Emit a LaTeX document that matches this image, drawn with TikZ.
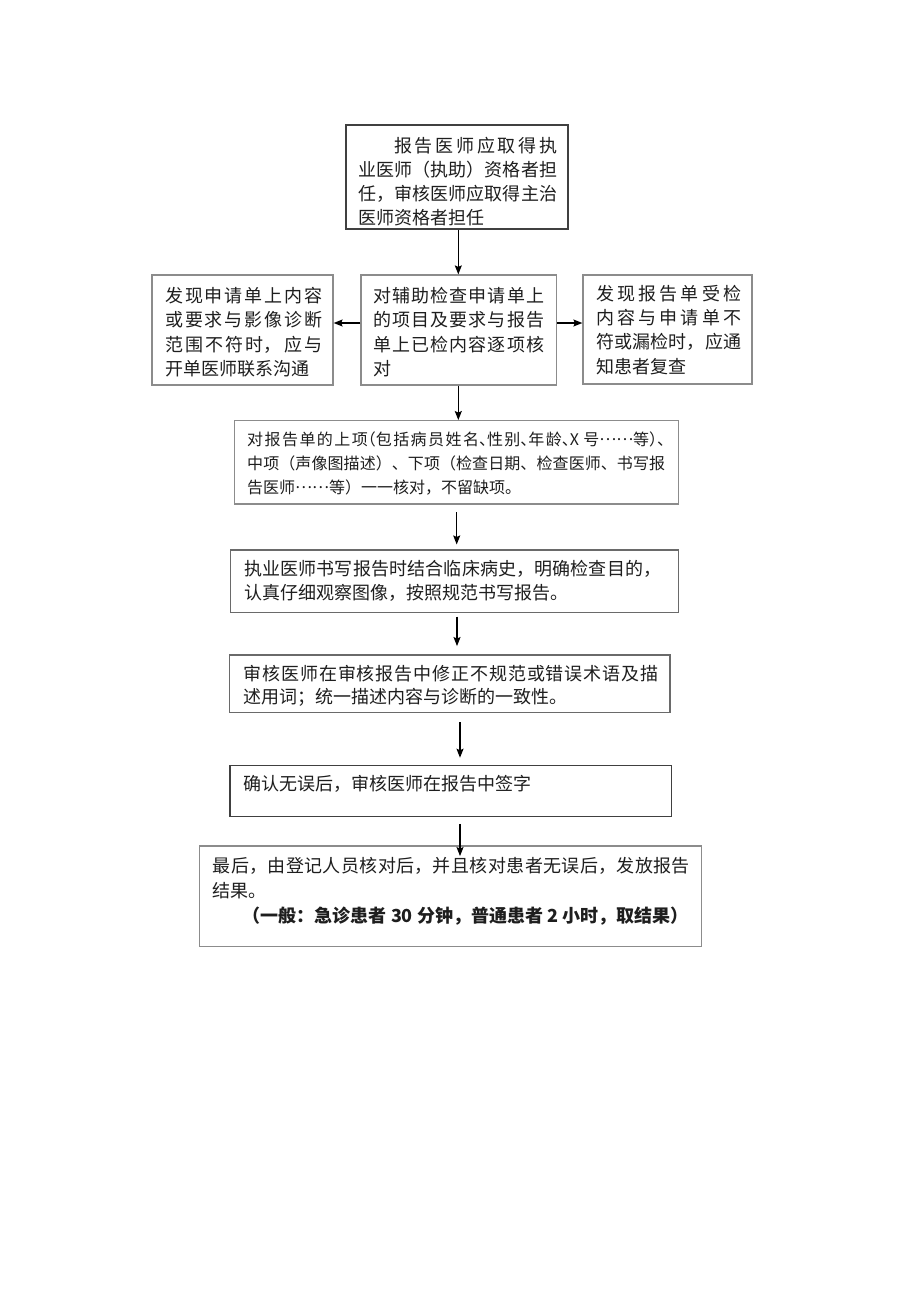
\documentclass[tikz,border=0pt]{standalone}
\usepackage{fontspec}
\setmainfont{Noto Sans CJK SC}
\newfontfamily\cjkh[RawFeature=+halt]{Noto Sans CJK SC}
\usetikzlibrary{arrows.meta}
\XeTeXlinebreaklocale "zh"
\XeTeXlinebreakskip=0pt plus 4pt
\tolerance=9999
\definecolor{txt}{HTML}{1E1E1E}
\definecolor{lgray}{HTML}{8C8C8C}
\definecolor{mgray}{HTML}{6A6A6A}
\definecolor{dgray}{HTML}{404040}
\newcommand{\cjkdots}{\raisebox{0.33em}{……}}
\begin{document}
\begin{tikzpicture}[x=1pt,y=-1pt,
  boxbase/.style={draw, rectangle, inner sep=0pt, line width=1.2pt},
  boxlight/.style={boxbase, draw=lgray},
  boxmid/.style={boxbase, draw=mgray},
  boxdark/.style={boxbase, draw=dgray},
  txtnode/.style={anchor=north west, inner sep=0pt, align=justify, text=txt},
  arr/.style={line width=1.3pt, -{Stealth[length=9pt,width=7pt,inset=1.5pt]}, black}
]
\useasboundingbox (0,0) rectangle (920,1301);
\fill[white] (0,0) rectangle (920,1301);

% boxes
\node[boxdark, minimum width=222pt, minimum height=104pt] (b1) at (457,177) {};
\node[boxlight, minimum width=181pt, minimum height=110pt] (bL) at (242.5,330) {};
\node[boxlight, minimum width=195.5pt, minimum height=110pt] (bM) at (458.7,330) {};
\node[boxlight, minimum width=169pt, minimum height=109pt] (bR) at (667.5,329.5) {};
\node[boxlight, minimum width=444pt, minimum height=83.3pt] (b4) at (456.3,462.3) {};
\node[boxmid, minimum width=447.6pt, minimum height=62.3pt] (b5) at (454.5,581.2) {};
\node[boxmid, minimum width=440.7pt, minimum height=57.7pt] (b6) at (449.7,683.8) {};
\node[boxdark, minimum width=441.7pt, minimum height=51pt] (b7) at (450.8,791.2) {};
\node[boxlight, minimum width=502.4pt, minimum height=100.7pt] (b8) at (450.5,896.3) {};

% texts
\node[txtnode, text width=199pt, font=\fontsize{18pt}{24pt}\selectfont] (t1) at (358,137)
  {\hspace*{2em}报告医师应取得执\linebreak 业医师（执助）资格者担\linebreak 任，审核医师应取得主治\linebreak 医师资格者担任};
\node[txtnode, text width=157pt, font=\fontsize{18pt}{24.4pt}\selectfont] (tL) at (165,287)
  {\parfillskip=0pt 发现申请单上内容\linebreak 或要求与影像诊断\linebreak 范围不符时，应与\linebreak 开单医师联系沟通};
\node[txtnode, text width=171pt, font=\fontsize{18pt}{24.4pt}\selectfont] (tM) at (373,287)
  {对辅助检查申请单上\linebreak 的项目及要求与报告\linebreak 单上已检内容逐项核\linebreak 对};
\node[txtnode, text width=145pt, font=\fontsize{18pt}{24.2pt}\selectfont] (tR) at (596,285)
  {发现报告单受检\linebreak 内容与申请单不\linebreak 符或漏检时，应通\linebreak 知患者复查};
\node[txtnode, text width=418pt, font=\fontsize{16pt}{24pt}\selectfont] (t4) at (247,432)
  {对报告单的上项{\cjkh （}包括病员姓名{\cjkh 、}性别{\cjkh 、}年龄{\cjkh 、}X 号\cjkdots 等{\cjkh ）、}\linebreak 中项（声像图描述）、下项（检查日期、检查医师、书写报\linebreak 告医师\cjkdots 等）一一核对，不留缺项。};
\node[txtnode, text width=417pt, font=\fontsize{18pt}{24.4pt}\selectfont] (t5) at (244,560)
  {执业医师书写报告时结合临床病史，明确检查目的，\linebreak 认真仔细观察图像，按照规范书写报告。};
\node[txtnode, text width=415pt, font=\fontsize{18pt}{23.4pt}\selectfont] (t6) at (243.3,665)
  {审核医师在审核报告中修正不规范或错误术语及描\linebreak 述用词；统一描述内容与诊断的一致性。};
\node[txtnode, text width=415pt, font=\fontsize{18pt}{24pt}\selectfont] (t7) at (243.3,775)
  {确认无误后，审核医师在报告中签字};
\node[txtnode, text width=477pt, font=\fontsize{18pt}{25pt}\selectfont] (t8) at (212.7,857)
  {最后，由登记人员核对后，并且核对患者无误后，发放报告\linebreak 结果。\par
   \hspace*{30pt}\mbox{\bfseries\fontsize{18pt}{25pt}\selectfont （一般：急诊患者 30 分钟，普通患者 2 小时，取结果）}};

% connector coordinates
\coordinate (xa) at (458.3,0);
\coordinate (xb) at (456.7,0);
\coordinate (xc) at (457,0);
\coordinate (xd) at (460,0);
\coordinate (ym) at (0,323);

% connectors
\draw[arr] (b1.south -| xa) -- (bM.north -| xa);
\draw[arr] (bM.west |- ym) -- (bL.east |- ym);
\draw[arr] (bM.east |- ym) -- (bR.west |- ym);
\draw[arr] (bM.south -| xa) -- (b4.north -| xa);
\draw[arr, shorten <=7.7pt, shorten >=5pt] (b4.south -| xb) -- (b5.north -| xb);
\draw[arr, shorten <=3.7pt, shorten >=8.3pt] (b5.south -| xc) -- (b6.north -| xc);
\draw[arr, shorten <=9pt, shorten >=7.4pt] (b6.south -| xd) -- (b7.north -| xd);
\draw[arr, shorten <=6.6pt, shorten >=-10.7pt] (b7.south -| xd) -- (b8.north -| xd);
\end{tikzpicture}
\end{document}
